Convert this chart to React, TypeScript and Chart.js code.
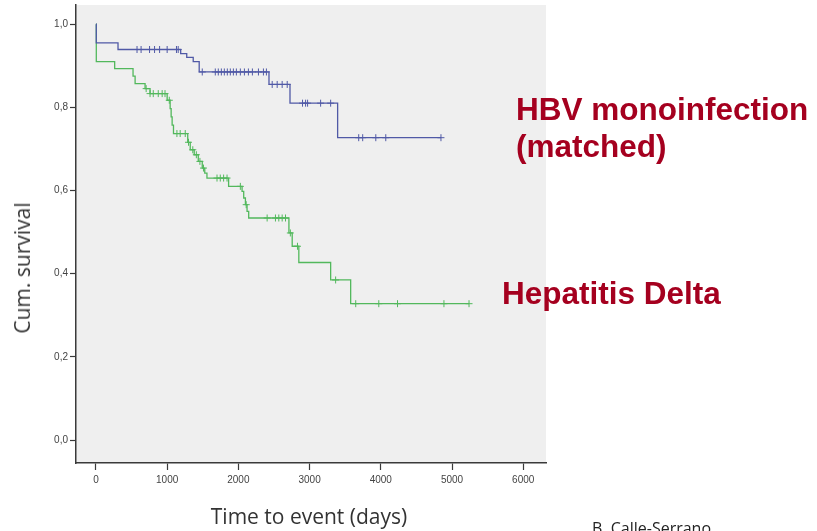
import { useEffect, useRef } from 'react';
import { Chart, registerables } from 'chart.js';

Chart.register(...registerables);

// ---- Data ----
const xTickValues = [0, 1000, 2000, 3000, 4000, 5000, 6000];
const yTickValues = [0, 0.2, 0.4, 0.6, 0.8, 1.0];

// HBV monoinfection (matched) – Kaplan-Meier steps
const hbvEventDays = [0, 5, 310, 1190, 1275, 1366, 1450, 2430, 2725, 3394, 4845];
const hbvSurvival = [1.0, 0.955, 0.939, 0.929, 0.92, 0.91, 0.885, 0.855, 0.81, 0.727, 0.727];
const hbvCensorDays = [
  577, 634, 753, 823, 894, 1000, 1131, 1155, 1493, 1676, 1718, 1761, 1803, 1845, 1887, 1930,
  1972, 2028, 2085, 2141, 2197, 2282, 2352, 2394, 2475, 2545, 2615, 2686, 2901, 2944, 2972,
  3155, 3296, 3690, 3746, 3930, 4070, 4845,
];

// Hepatitis Delta – Kaplan-Meier steps
const hdvEventDays = [
  0, 5, 263, 521, 550, 690, 760, 1000, 1042, 1056, 1070, 1089, 1289, 1324, 1380, 1437, 1493,
  1528, 1559, 1863, 2052, 2075, 2099, 2122, 2145, 2710, 2756, 2849, 3296, 3577, 5239,
];
const hdvSurvival = [
  1.0, 0.91, 0.893, 0.875, 0.857, 0.845, 0.833, 0.817, 0.797, 0.777, 0.757, 0.737, 0.716,
  0.698, 0.686, 0.67, 0.654, 0.642, 0.63, 0.61, 0.598, 0.582, 0.566, 0.55, 0.534, 0.498,
  0.466, 0.427, 0.385, 0.328, 0.328,
];
const hdvCensorDays = [
  705, 760, 805, 875, 930, 970, 1030, 1137, 1183, 1254, 1300, 1360, 1410, 1460, 1510, 1700,
  1746, 1793, 1841, 2028, 2110, 2404, 2521, 2568, 2615, 2662, 2730, 2830, 3366, 3648, 3972,
  4235, 4887, 5239,
];

const seriesNames = ['HBV monoinfection (matched)', 'Hepatitis Delta'];
const blue = '#5059a6';
const green = '#52b85c';

function stepPoints(days: number[], surv: number[]) {
  return days.map((d, i) => ({ x: d, y: surv[i] }));
}
function censorPoints(censor: number[], days: number[], surv: number[]) {
  return censor.map((c) => {
    let s = surv[0];
    for (let i = 0; i < days.length; i++) if (days[i] <= c) s = surv[i];
    return { x: c, y: s };
  });
}

const plotBg = {
  id: 'plotBg',
  beforeDraw(chart: any) {
    const { ctx, chartArea } = chart;
    const { left, top, right, bottom } = chartArea;
    ctx.save();
    ctx.fillStyle = '#efefef';
    ctx.fillRect(left, top, right - left, bottom - top);
    ctx.restore();
  },
};

export default function App() {
  const ref = useRef<HTMLCanvasElement>(null);

  useEffect(() => {
    const tickFont = { family: "'Liberation Sans', Arial, sans-serif", size: 10 };
    const chart = new Chart(ref.current!, {
      type: 'line',
      data: {
        datasets: [
          {
            label: seriesNames[0],
            data: stepPoints(hbvEventDays, hbvSurvival),
            borderColor: blue,
            borderWidth: 1.3,
            stepped: 'before',
            pointRadius: 0,
            fill: false,
          },
          {
            label: seriesNames[0] + ' censored',
            data: censorPoints(hbvCensorDays, hbvEventDays, hbvSurvival),
            borderColor: blue,
            showLine: false,
            pointStyle: 'cross',
            pointRadius: 3.5,
            pointBorderWidth: 1,
          },
          {
            label: seriesNames[1],
            data: stepPoints(hdvEventDays, hdvSurvival),
            borderColor: green,
            borderWidth: 1.3,
            stepped: 'before',
            pointRadius: 0,
            fill: false,
          },
          {
            label: seriesNames[1] + ' censored',
            data: censorPoints(hdvCensorDays, hdvEventDays, hdvSurvival),
            borderColor: green,
            showLine: false,
            pointStyle: 'cross',
            pointRadius: 3.5,
            pointBorderWidth: 1,
          },
        ],
      },
      options: {
        responsive: false,
        animation: false,
        devicePixelRatio: 1,
        layout: { padding: { left: 0, top: 3, right: 271, bottom: 0 } },
        plugins: {
          legend: { display: false },
          tooltip: { enabled: false },
        },
        scales: {
          x: {
            type: 'linear',
            min: -280,
            max: 6320,
            afterBuildTicks: (scale: any) => {
              scale.ticks = xTickValues.map((v) => ({ value: v }));
            },
            afterFit: (scale: any) => {
              scale.height = 68;
              scale.paddingLeft = 0;
              scale.paddingRight = 0;
            },
            border: { display: true, color: '#3a3a3a', width: 1.5 },
            grid: {
              display: true,
              drawOnChartArea: false,
              drawTicks: true,
              tickLength: 7,
              tickColor: '#3a3a3a',
              tickWidth: 1.2,
            },
            ticks: {
              padding: 4,
              color: '#444',
              font: tickFont,
              maxRotation: 0,
              autoSkip: false,
              callback: (v: any) => String(v),
            },
          },
          y: {
            type: 'linear',
            min: -0.055,
            max: 1.046,
            afterBuildTicks: (scale: any) => {
              scale.ticks = yTickValues.map((v) => ({ value: v }));
            },
            afterFit: (scale: any) => {
              scale.width = 76;
              scale.paddingTop = 0;
              scale.paddingBottom = 0;
            },
            border: { display: true, color: '#3a3a3a', width: 1.5 },
            grid: {
              display: true,
              drawOnChartArea: false,
              drawTicks: true,
              tickLength: 6,
              tickColor: '#3a3a3a',
              tickWidth: 1.2,
            },
            ticks: {
              padding: 2,
              color: '#444',
              font: tickFont,
              autoSkip: false,
              callback: (v: any) => Number(v).toFixed(1).replace('.', ','),
            },
          },
        },
      },
      plugins: [plotBg],
    } as any);
    return () => chart.destroy();
  }, []);

  const red = '#a5001f';
  const labelFont = "'Liberation Sans', Arial, sans-serif";

  return (
    <div
      style={{
        position: 'fixed',
        left: 0,
        top: 0,
        width: 817,
        height: 531,
        background: '#fff',
        overflow: 'hidden',
      }}
    >
      <canvas ref={ref} width={817} height={531} style={{ display: 'block', width: 817, height: 531 }} />
      <div
        style={{
          position: 'absolute',
          left: 22,
          top: 268,
          transform: 'translate(-50%, -50%) rotate(-90deg)',
          whiteSpace: 'nowrap',
          fontFamily: "'Open Sans', sans-serif",
          fontSize: 21,
          color: '#333',
        }}
      >
        Cum. survival
      </div>
      <div
        style={{
          position: 'absolute',
          left: 309,
          top: 516,
          transform: 'translate(-50%, -50%)',
          whiteSpace: 'nowrap',
          fontFamily: "'Open Sans', sans-serif",
          fontSize: 21,
          color: '#333',
        }}
      >
        Time to event (days)
      </div>
      <div
        style={{
          position: 'absolute',
          left: 516,
          top: 91,
          fontFamily: labelFont,
          fontWeight: 'bold',
          fontSize: 31.5,
          lineHeight: '37px',
          color: red,
          whiteSpace: 'nowrap',
        }}
      >
        HBV monoinfection
        <br />
        (matched)
      </div>
      <div
        style={{
          position: 'absolute',
          left: 502,
          top: 275,
          fontFamily: labelFont,
          fontWeight: 'bold',
          fontSize: 31.5,
          lineHeight: '37px',
          color: red,
          whiteSpace: 'nowrap',
        }}
      >
        Hepatitis Delta
      </div>
      <div
        style={{
          position: 'absolute',
          left: 592,
          top: 520,
          fontFamily: "'Open Sans', sans-serif",
          fontSize: 16,
          lineHeight: '16px',
          color: '#222',
          whiteSpace: 'nowrap',
        }}
      >
        B. Calle-Serrano
      </div>
    </div>
  );
}
